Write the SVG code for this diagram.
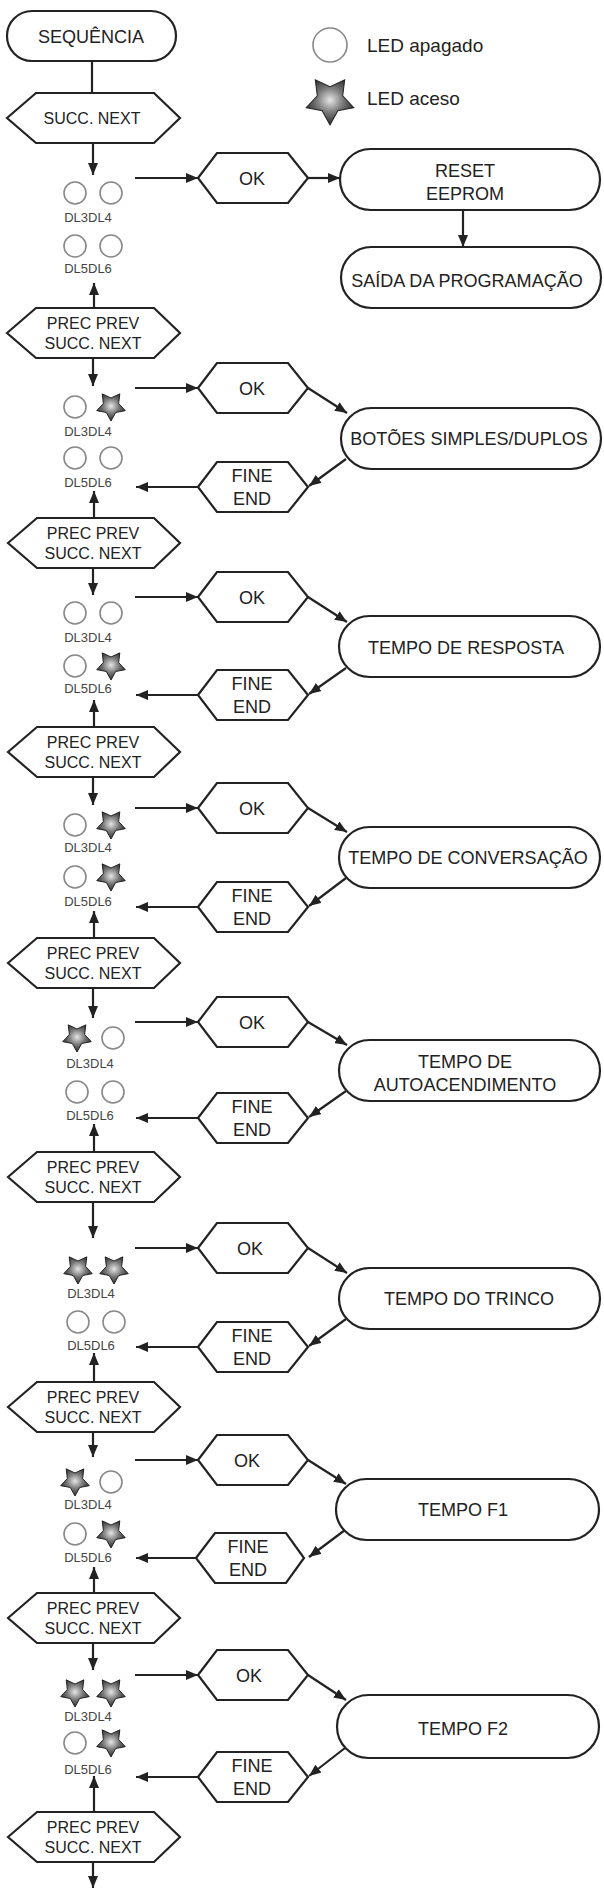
<svg xmlns="http://www.w3.org/2000/svg" xmlns:xlink="http://www.w3.org/1999/xlink" width="604" height="1889" viewBox="0 0 604 1889">
<style>
.bg{fill:#fff}
.ln{stroke:#222;stroke-width:2.2;fill:none}
.sh{fill:#fff;stroke:#222;stroke-width:2.2}
.t{font-family:"Liberation Sans",Arial,sans-serif;fill:#222;text-anchor:middle}
.lb{font-size:19px;transform:scaleX(0.95);transform-box:fill-box;transform-origin:center}
.hx{font-size:16px}
.dl{font-size:13px;fill:#444}
.lg{font-size:19px;text-anchor:start}
.off{fill:#fff;stroke:#888;stroke-width:1.6}
.on{fill:url(#g);stroke:#222;stroke-width:1}
</style>
<defs>
<radialGradient id="g" cx="50%" cy="45%" r="55%">
<stop offset="0" stop-color="#e6e6e6"/>
<stop offset="0.5" stop-color="#7a7a7a"/>
<stop offset="1" stop-color="#2a2a2a"/>
</radialGradient>
<path id="star" d="M0,15 L-4.7,6.47 L-14.27,4.64 L-7.61,-2.47 L-8.82,-12.14 L0,-8 L8.82,-12.14 L7.61,-2.47 L14.27,4.64 L4.7,6.47 Z"/>
<marker id="ah" viewBox="0 0 12 10" refX="12" refY="5" markerWidth="12" markerHeight="10" markerUnits="userSpaceOnUse" orient="auto">
<path d="M0,0 L12,5 L0,10 z" fill="#222"/>
</marker>
</defs>
<rect class="bg" x="0" y="0" width="604" height="1889"/>

<g id="legend">
<circle class="off" cx="330" cy="45" r="17"/>
<text class="t lg" x="367" y="52">LED apagado</text>
<use href="#star" class="on" transform="translate(330,100) scale(1.667)" style="stroke-width:0.6"/>
<text class="t lg" x="367" y="105">LED aceso</text>
</g>

<g id="connectors">
<line class="ln" x1="92" y1="61" x2="92" y2="93"/>
<line class="ln" x1="93" y1="143" x2="93" y2="175" marker-end="url(#ah)"/>
<line class="ln" x1="135" y1="178" x2="198" y2="178" marker-end="url(#ah)"/>
<line class="ln" x1="308" y1="178" x2="340" y2="178" marker-end="url(#ah)"/>
<line class="ln" x1="463" y1="210" x2="463" y2="247" marker-end="url(#ah)"/>
<line class="ln" x1="94" y1="308" x2="94" y2="283" marker-end="url(#ah)"/>

<line class="ln" x1="93" y1="358" x2="93" y2="386" marker-end="url(#ah)"/>
<line class="ln" x1="135" y1="388" x2="198" y2="388" marker-end="url(#ah)"/>
<line class="ln" x1="308" y1="388" x2="347" y2="413" marker-end="url(#ah)"/>
<line class="ln" x1="346" y1="459" x2="309" y2="486" marker-end="url(#ah)"/>
<line class="ln" x1="198" y1="487" x2="136" y2="487" marker-end="url(#ah)"/>
<line class="ln" x1="94" y1="518" x2="94" y2="491" marker-end="url(#ah)"/>

<line class="ln" x1="93" y1="568" x2="93" y2="595" marker-end="url(#ah)"/>
<line class="ln" x1="135" y1="597" x2="198" y2="597" marker-end="url(#ah)"/>
<line class="ln" x1="308" y1="597" x2="347" y2="622" marker-end="url(#ah)"/>
<line class="ln" x1="346" y1="668" x2="309" y2="694" marker-end="url(#ah)"/>
<line class="ln" x1="198" y1="695" x2="136" y2="695" marker-end="url(#ah)"/>
<line class="ln" x1="94" y1="727" x2="94" y2="700" marker-end="url(#ah)"/>

<line class="ln" x1="93" y1="777" x2="93" y2="805" marker-end="url(#ah)"/>
<line class="ln" x1="135" y1="808" x2="198" y2="808" marker-end="url(#ah)"/>
<line class="ln" x1="308" y1="808" x2="347" y2="832" marker-end="url(#ah)"/>
<line class="ln" x1="346" y1="878" x2="309" y2="906" marker-end="url(#ah)"/>
<line class="ln" x1="198" y1="907" x2="136" y2="907" marker-end="url(#ah)"/>
<line class="ln" x1="94" y1="938" x2="94" y2="911" marker-end="url(#ah)"/>

<line class="ln" x1="93" y1="988" x2="93" y2="1018" marker-end="url(#ah)"/>
<line class="ln" x1="135" y1="1022" x2="198" y2="1022" marker-end="url(#ah)"/>
<line class="ln" x1="308" y1="1022" x2="347" y2="1045" marker-end="url(#ah)"/>
<line class="ln" x1="346" y1="1091" x2="309" y2="1117" marker-end="url(#ah)"/>
<line class="ln" x1="198" y1="1118" x2="136" y2="1118" marker-end="url(#ah)"/>
<line class="ln" x1="94" y1="1152" x2="94" y2="1124" marker-end="url(#ah)"/>

<line class="ln" x1="93" y1="1202" x2="93" y2="1238" marker-end="url(#ah)"/>
<line class="ln" x1="135" y1="1248" x2="198" y2="1248" marker-end="url(#ah)"/>
<line class="ln" x1="308" y1="1248" x2="347" y2="1273" marker-end="url(#ah)"/>
<line class="ln" x1="346" y1="1319" x2="309" y2="1346" marker-end="url(#ah)"/>
<line class="ln" x1="198" y1="1347" x2="136" y2="1347" marker-end="url(#ah)"/>
<line class="ln" x1="94" y1="1382" x2="94" y2="1353" marker-end="url(#ah)"/>

<line class="ln" x1="93" y1="1432" x2="93" y2="1457" marker-end="url(#ah)"/>
<line class="ln" x1="135" y1="1460" x2="198" y2="1460" marker-end="url(#ah)"/>
<line class="ln" x1="308" y1="1460" x2="346" y2="1484" marker-end="url(#ah)"/>
<line class="ln" x1="345" y1="1530" x2="309" y2="1557" marker-end="url(#ah)"/>
<line class="ln" x1="198" y1="1558" x2="136" y2="1558" marker-end="url(#ah)"/>
<line class="ln" x1="94" y1="1593" x2="94" y2="1567" marker-end="url(#ah)"/>

<line class="ln" x1="93" y1="1643" x2="93" y2="1670" marker-end="url(#ah)"/>
<line class="ln" x1="135" y1="1675" x2="198" y2="1675" marker-end="url(#ah)"/>
<line class="ln" x1="308" y1="1675" x2="346" y2="1700" marker-end="url(#ah)"/>
<line class="ln" x1="345" y1="1748" x2="309" y2="1776" marker-end="url(#ah)"/>
<line class="ln" x1="198" y1="1777" x2="136" y2="1777" marker-end="url(#ah)"/>
<line class="ln" x1="94" y1="1812" x2="94" y2="1776" marker-end="url(#ah)"/>

<line class="ln" x1="93" y1="1862" x2="93" y2="1888" marker-end="url(#ah)"/>
</g>

<g id="sequencia">
<rect class="sh" x="7" y="11" width="169" height="50" rx="25"/>
<text class="t lb" x="91" y="43">SEQUÊNCIA</text>
</g>

<g id="succ0">
<polygon class="sh" points="7,118 36,93 154,93 180,118 154,143 36,143"/>
<text class="t hx" x="92" y="124">SUCC. NEXT</text>
</g>

<g id="leds1">
<circle class="off" cx="75" cy="193" r="11"/>
<circle class="off" cx="111" cy="193" r="11"/>
<text class="t dl" x="88" y="221.5">DL3DL4</text>
<circle class="off" cx="75" cy="246" r="11"/>
<circle class="off" cx="111" cy="246" r="11"/>
<text class="t dl" x="88" y="272.5">DL5DL6</text>
</g>
<g id="ok1">
<polygon class="sh" points="198,178 217,153 288,153 308,178 288,203 217,203"/>
<text class="t lb" x="252" y="185">OK</text>
</g>
<g id="reset">
<rect class="sh" x="340" y="149" width="260" height="61" rx="30.5"/>
<text class="t lb" x="465" y="177">RESET</text>
<text class="t lb" x="465" y="200">EEPROM</text>
</g>
<g id="saida">
<rect class="sh" x="341" y="247" width="260" height="61" rx="30.5"/>
<text class="t lb" x="467" y="287">SAÍDA DA PROGRAMAÇÃO</text>
</g>

<g id="prec1">
<polygon class="sh" points="7,333 36,308 154,308 180,333 154,358 36,358"/>
<text class="t hx" x="93" y="329">PREC PREV</text>
<text class="t hx" x="93" y="349">SUCC. NEXT</text>
</g>

<g id="leds2">
<circle class="off" cx="75" cy="407" r="11"/>
<use href="#star" class="on" x="111" y="406"/>
<text class="t dl" x="88" y="435.5">DL3DL4</text>
<circle class="off" cx="75" cy="458" r="11"/>
<circle class="off" cx="111" cy="458" r="11"/>
<text class="t dl" x="88" y="486.5">DL5DL6</text>
</g>
<g id="ok2">
<polygon class="sh" points="198,388 217,363 288,363 308,388 288,413 217,413"/>
<text class="t lb" x="252" y="395">OK</text>
</g>
<g id="botoes">
<rect class="sh" x="341" y="408" width="260" height="61" rx="30.5"/>
<text class="t lb" x="469" y="445">BOTÕES SIMPLES/DUPLOS</text>
</g>
<g id="fine2">
<polygon class="sh" points="198,487 217,462 288,462 308,487 288,512 217,512"/>
<text class="t lb" x="252" y="482">FINE</text>
<text class="t lb" x="252" y="505">END</text>
</g>

<g id="prec2">
<polygon class="sh" points="8,543 37,518 154,518 180,543 154,568 37,568"/>
<text class="t hx" x="93" y="539">PREC PREV</text>
<text class="t hx" x="93" y="559">SUCC. NEXT</text>
</g>

<g id="leds3">
<circle class="off" cx="75" cy="613" r="11"/>
<circle class="off" cx="111" cy="613" r="11"/>
<text class="t dl" x="88" y="641.5">DL3DL4</text>
<circle class="off" cx="75" cy="666" r="11"/>
<use href="#star" class="on" x="111" y="665"/>
<text class="t dl" x="88" y="692.5">DL5DL6</text>
</g>
<g id="ok3">
<polygon class="sh" points="198,597 217,572 288,572 308,597 288,622 217,622"/>
<text class="t lb" x="252" y="604">OK</text>
</g>
<g id="resposta">
<rect class="sh" x="339" y="616" width="261" height="61" rx="30.5"/>
<text class="t lb" x="466" y="654">TEMPO DE RESPOSTA</text>
</g>
<g id="fine3">
<polygon class="sh" points="198,695 217,670 288,670 308,695 288,720 217,720"/>
<text class="t lb" x="252" y="690">FINE</text>
<text class="t lb" x="252" y="713">END</text>
</g>

<g id="prec3">
<polygon class="sh" points="8,752 37,727 154,727 180,752 154,777 37,777"/>
<text class="t hx" x="93" y="748">PREC PREV</text>
<text class="t hx" x="93" y="768">SUCC. NEXT</text>
</g>

<g id="leds4">
<circle class="off" cx="75" cy="825" r="11"/>
<use href="#star" class="on" x="111" y="824"/>
<text class="t dl" x="88" y="851.5">DL3DL4</text>
<circle class="off" cx="75" cy="877" r="11"/>
<use href="#star" class="on" x="111" y="876"/>
<text class="t dl" x="88" y="905.5">DL5DL6</text>
</g>
<g id="ok4">
<polygon class="sh" points="198,808 217,783 288,783 308,808 288,833 217,833"/>
<text class="t lb" x="252" y="815">OK</text>
</g>
<g id="conversacao">
<rect class="sh" x="339" y="827" width="261" height="61" rx="30.5"/>
<text class="t lb" x="468" y="864">TEMPO DE CONVERSAÇÃO</text>
</g>
<g id="fine4">
<polygon class="sh" points="198,907 217,882 288,882 308,907 288,932 217,932"/>
<text class="t lb" x="252" y="902">FINE</text>
<text class="t lb" x="252" y="925">END</text>
</g>

<g id="prec4">
<polygon class="sh" points="8,963 37,938 154,938 180,963 154,988 37,988"/>
<text class="t hx" x="93" y="959">PREC PREV</text>
<text class="t hx" x="93" y="979">SUCC. NEXT</text>
</g>

<g id="leds5">
<use href="#star" class="on" x="77" y="1037"/>
<circle class="off" cx="113" cy="1038" r="11"/>
<text class="t dl" x="90" y="1067.5">DL3DL4</text>
<circle class="off" cx="77" cy="1092" r="11"/>
<circle class="off" cx="113" cy="1092" r="11"/>
<text class="t dl" x="90" y="1119.5">DL5DL6</text>
</g>
<g id="ok5">
<polygon class="sh" points="198,1022 217,997 288,997 308,1022 288,1047 217,1047"/>
<text class="t lb" x="252" y="1029">OK</text>
</g>
<g id="autoacendimento">
<rect class="sh" x="339" y="1040" width="261" height="61" rx="30.5"/>
<text class="t lb" x="465" y="1068">TEMPO DE</text>
<text class="t lb" x="465" y="1091">AUTOACENDIMENTO</text>
</g>
<g id="fine5">
<polygon class="sh" points="198,1118 217,1093 288,1093 308,1118 288,1143 217,1143"/>
<text class="t lb" x="252" y="1113">FINE</text>
<text class="t lb" x="252" y="1136">END</text>
</g>

<g id="prec5">
<polygon class="sh" points="8,1177 37,1152 154,1152 180,1177 154,1202 37,1202"/>
<text class="t hx" x="93" y="1173">PREC PREV</text>
<text class="t hx" x="93" y="1193">SUCC. NEXT</text>
</g>

<g id="leds6">
<use href="#star" class="on" x="78" y="1269"/>
<use href="#star" class="on" x="114" y="1269"/>
<text class="t dl" x="91" y="1297.5">DL3DL4</text>
<circle class="off" cx="78" cy="1322" r="11"/>
<circle class="off" cx="114" cy="1322" r="11"/>
<text class="t dl" x="91" y="1349.5">DL5DL6</text>
</g>
<g id="ok6">
<polygon class="sh" points="198,1248 217,1223 288,1223 308,1248 288,1273 217,1273"/>
<text class="t lb" x="250" y="1255">OK</text>
</g>
<g id="trinco">
<rect class="sh" x="339" y="1268" width="261" height="61" rx="30.5"/>
<text class="t lb" x="469" y="1305">TEMPO DO TRINCO</text>
</g>
<g id="fine6">
<polygon class="sh" points="198,1347 217,1322 288,1322 308,1347 288,1372 217,1372"/>
<text class="t lb" x="252" y="1342">FINE</text>
<text class="t lb" x="252" y="1365">END</text>
</g>

<g id="prec6">
<polygon class="sh" points="8,1407 37,1382 154,1382 180,1407 154,1432 37,1432"/>
<text class="t hx" x="93" y="1403">PREC PREV</text>
<text class="t hx" x="93" y="1423">SUCC. NEXT</text>
</g>

<g id="leds7">
<use href="#star" class="on" x="75" y="1481"/>
<circle class="off" cx="111" cy="1482" r="11"/>
<text class="t dl" x="88" y="1508.5">DL3DL4</text>
<circle class="off" cx="75" cy="1534" r="11"/>
<use href="#star" class="on" x="111" y="1533"/>
<text class="t dl" x="88" y="1561.5">DL5DL6</text>
</g>
<g id="ok7">
<polygon class="sh" points="198,1460 217,1435 288,1435 308,1460 288,1485 217,1485"/>
<text class="t lb" x="247" y="1467">OK</text>
</g>
<g id="f1">
<rect class="sh" x="336" y="1479" width="263" height="61" rx="30.5"/>
<text class="t lb" x="463" y="1516">TEMPO F1</text>
</g>
<g id="fine7">
<polygon class="sh" points="196,1558 215,1533 286,1533 304,1558 286,1583 215,1583"/>
<text class="t lb" x="248" y="1553">FINE</text>
<text class="t lb" x="248" y="1576">END</text>
</g>

<g id="prec7">
<polygon class="sh" points="8,1618 37,1593 154,1593 180,1618 154,1643 37,1643"/>
<text class="t hx" x="93" y="1614">PREC PREV</text>
<text class="t hx" x="93" y="1634">SUCC. NEXT</text>
</g>

<g id="leds8">
<use href="#star" class="on" x="75" y="1692"/>
<use href="#star" class="on" x="111" y="1692"/>
<text class="t dl" x="88" y="1720.5">DL3DL4</text>
<circle class="off" cx="75" cy="1743" r="11"/>
<use href="#star" class="on" x="111" y="1742"/>
<text class="t dl" x="88" y="1773.5">DL5DL6</text>
</g>
<g id="ok8">
<polygon class="sh" points="198,1675 217,1650 288,1650 308,1675 288,1700 217,1700"/>
<text class="t lb" x="249" y="1682">OK</text>
</g>
<g id="f2">
<rect class="sh" x="337" y="1695" width="262" height="63" rx="31.5"/>
<text class="t lb" x="463" y="1735">TEMPO F2</text>
</g>
<g id="fine8">
<polygon class="sh" points="198,1777 217,1752 288,1752 308,1777 288,1802 217,1802"/>
<text class="t lb" x="252" y="1772">FINE</text>
<text class="t lb" x="252" y="1795">END</text>
</g>

<g id="prec8">
<polygon class="sh" points="8,1837 37,1812 154,1812 180,1837 154,1862 37,1862"/>
<text class="t hx" x="93" y="1833">PREC PREV</text>
<text class="t hx" x="93" y="1853">SUCC. NEXT</text>
</g>
</svg>
